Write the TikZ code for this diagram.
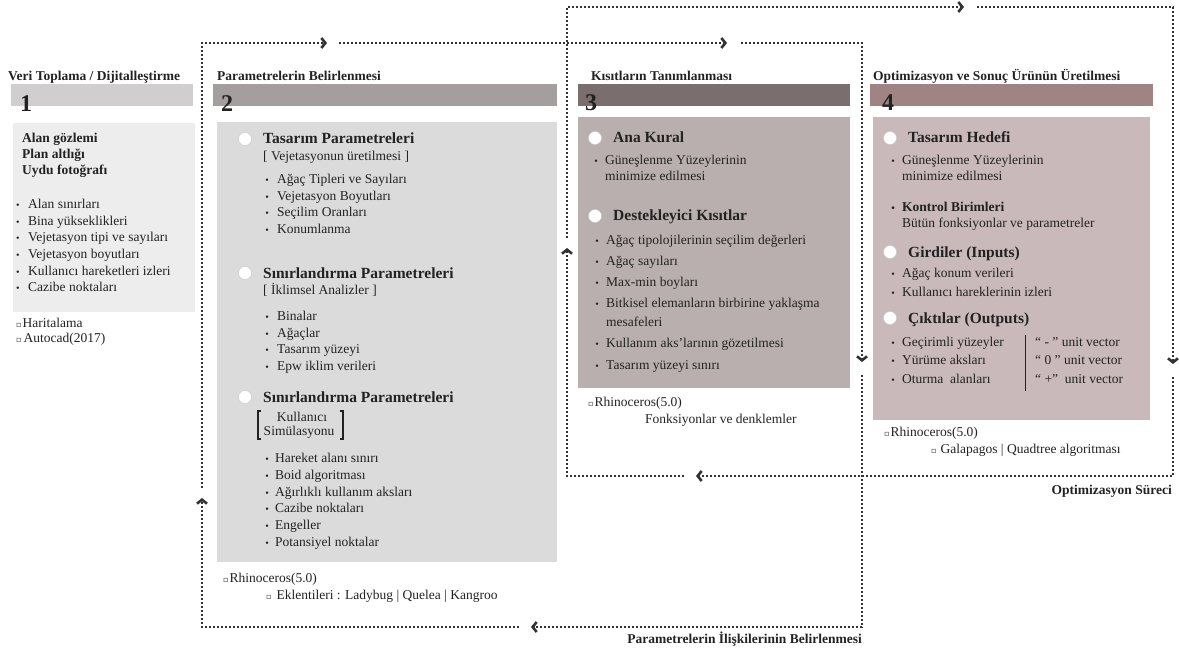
\documentclass[tikz,border=0pt]{standalone}
\usepackage{fontspec}
\setmainfont{Liberation Serif}
\newfontfamily\symfont{DejaVu Sans}
\usetikzlibrary{arrows.meta}
\definecolor{barone}{HTML}{D0CECE}
\definecolor{boxone}{HTML}{EDEDED}
\definecolor{bartwo}{HTML}{A59E9E}
\definecolor{boxtwo}{HTML}{DCDBDB}
\definecolor{barthree}{HTML}{7B6E6E}
\definecolor{boxthree}{HTML}{BAAFAF}
\definecolor{barfour}{HTML}{A08383}
\definecolor{boxfour}{HTML}{C9B9BA}
\definecolor{ink}{HTML}{222222}
\definecolor{loopc}{HTML}{333333}
\newcommand{\boxmark}{{\symfont\fontsize{8}{8}\selectfont ▫}}
\tikzset{
  txt/.style={anchor=west, inner sep=0pt, text height=9pt, text depth=0pt, text=ink, font=\fontsize{13.5}{15}\selectfont},
  strong/.style={txt, font=\fontsize{13.5}{15}\selectfont\bfseries},
  subhead/.style={txt, text height=10pt, font=\fontsize{15.5}{17}\selectfont\bfseries},
  bul/.style={txt, anchor=center, font=\fontsize{10}{10}\selectfont},
  num/.style={anchor=base west, inner sep=0pt, text=ink, font=\fontsize{24}{25}\selectfont\bfseries},
  ring/.style={circle, fill=white, draw=black!20, line width=0.5pt, minimum size=13pt, inner sep=0pt},
  loopline/.style={draw=loopc, line width=1.8pt, dash pattern=on 1.8pt off 2.2pt},
  chev/.style={-{Straight Barb[length=4pt,width=10pt,line width=2.6pt]}},
}
\begin{document}
\begin{tikzpicture}[x=1pt,y=-1pt]
\useasboundingbox (0,0) rectangle (1179,650);
% loops
\coordinate (aNW) at (202,43);
\coordinate (aNE) at (862,43);
\coordinate (aSE) at (862,627);
\coordinate (aSW) at (202,627);
\coordinate (oNW) at (567,7);
\coordinate (oNE) at (1173,7);
\coordinate (oSE) at (1173,476);
\coordinate (oSW) at (567,476);
\draw[loopline, chev] (202,488) -- (aNW) -- (327,43);
\draw[loopline, chev] (339,43) -- (727,43);
\draw[loopline, chev] (741,43) -- (aNE) -- (862,362);
\draw[loopline, chev] (862,375) -- (aSE) -- (531,627);
\draw[loopline, chev] (519,627) -- (aSW) -- (202,498);
\draw[loopline, chev] (567,238) -- (oNW) -- (964,7);
\draw[loopline, chev] (977,7) -- (oNE) -- (1173,364);
\draw[loopline, chev] (1173,377) -- (oSE) -- (696,476);
\draw[loopline, chev] (684,476) -- (oSW) -- (567,248);
\node[strong, anchor=east] (lblA) at (862,639) {Parametrelerin İlişkilerinin Belirlenmesi};
\node[strong, anchor=east] (lblB) at (1172,490) {Optimizasyon Süreci};
% section 1
\node[strong] (t1) at (8,76) {Veri Toplama / Dijitalleştirme};
\fill[barone] (11,84) rectangle (193,106);
\node[num] (n1) at (20,112) {1};
\fill[boxone] (13,123) rectangle (195,312);
\foreach \y/\lbl [count=\i] in {138/Alan gözlemi, 154/Plan altlığı, 170/Uydu fotoğrafı}
  \node[strong] (s1h\i) at (22,\y) {\lbl};
\foreach \y/\lbl [count=\i] in {204/Alan sınırları, 221/Bina yükseklikleri, 237/Vejetasyon tipi ve sayıları, 254/Vejetasyon boyutları, 271/Kullanıcı hareketleri izleri, 287/Cazibe noktaları}{
  \node[bul] (s1b\i) at (18,\y) {•};
  \node[txt] (s1t\i) at (28,\y) {\lbl};
}
\node[txt] (s1m1) at (16,323) {\boxmark\hspace{1pt}Haritalama};
\node[txt] (s1m2) at (16,338) {\boxmark\hspace{2pt}Autocad(2017)};
% section 2
\node[strong] (t2) at (217,76) {Parametrelerin Belirlenmesi};
\fill[bartwo] (213,84) rectangle (557,106);
\node[num] (n2) at (221,112) {2};
\fill[boxtwo] (217,122) rectangle (557,562);
\node[ring] (r21) at (245,139) {};
\node[subhead] (h21) at (263,139) {Tasarım Parametreleri};
\node[txt] (g21) at (263,156) {[ Vejetasyonun üretilmesi ]};
\foreach \y/\lbl [count=\i] in {179/Ağaç Tipleri ve Sayıları, 196/Vejetasyon Boyutları, 212/Seçilim Oranları, 229/Konumlanma}{
  \node[bul] (s2a\i) at (267,\y) {•};
  \node[txt] (s2at\i) at (277,\y) {\lbl};
}
\node[ring] (r22) at (245,273) {};
\node[subhead] (h22) at (263,273) {Sınırlandırma Parametreleri};
\node[txt] (g22) at (263,290) {[ İklimsel Analizler ]};
\foreach \y/\lbl [count=\i] in {316/Binalar, 333/Ağaçlar, 349/Tasarım yüzeyi, 366/Epw iklim verileri}{
  \node[bul] (s2b\i) at (267,\y) {•};
  \node[txt] (s2bt\i) at (277,\y) {\lbl};
}
\node[ring] (r23) at (245,397) {};
\node[subhead] (h23) at (263,397) {Sınırlandırma Parametreleri};
\node[txt, anchor=center] (g23a) at (302,417) {Kullanıcı};
\node[txt, anchor=center] (g23b) at (299,431) {Simülasyonu};
\draw[ink, line width=1.2pt] (261,411) -- (258,411) -- (258,439) -- (261,439);
\draw[ink, line width=1.2pt] (340,411) -- (343,411) -- (343,439) -- (340,439);
\foreach \y/\lbl [count=\i] in {458/Hareket alanı sınırı, 475/Boid algoritması, 492/Ağırlıklı kullanım aksları, 508/Cazibe noktaları, 525/Engeller, 542/Potansiyel noktalar}{
  \node[bul] (s2c\i) at (267,\y) {•};
  \node[txt] (s2ct\i) at (275,\y) {\lbl};
}
\node[txt] (s2m1) at (223,578) {\boxmark\hspace{1pt}Rhinoceros(5.0)};
\node[txt] (s2m2) at (266,595) {\boxmark\hspace{5pt}Eklentileri : Ladybug | Quelea | Kangroo};
% section 3
\node[strong] (t3) at (591,76) {Kısıtların Tanımlanması};
\fill[barthree] (578,84) rectangle (850,106);
\node[num] (n3) at (585,111) {3};
\fill[boxthree] (578,117) rectangle (850,388);
\node[ring] (r31) at (595,138) {};
\node[subhead] (h31) at (613,138) {Ana Kural};
\node[bul] (s3a1) at (596,160) {•};
\node[txt] (s3at1) at (605,160) {Güneşlenme Yüzeylerinin};
\node[txt] (s3at2) at (605,176) {minimize edilmesi};
\node[ring] (r32) at (595,216) {};
\node[subhead] (h32) at (613,216) {Destekleyici Kısıtlar};
\foreach \y/\lbl [count=\i] in {240/Ağaç tipolojilerinin seçilim değerleri, 261/Ağaç sayıları, 282/Max-min boyları, 303/Bitkisel elemanların birbirine yaklaşma, 343/Kullanım aks’larının gözetilmesi, 365/Tasarım yüzeyi sınırı}{
  \node[bul] (s3b\i) at (597,\y) {•};
  \node[txt] (s3bt\i) at (606,\y) {\lbl};
}
\node[txt] (s3bx) at (606,322) {mesafeleri};
\node[txt] (s3m1) at (588,402) {\boxmark\hspace{1pt}Rhinoceros(5.0)};
\node[txt] (s3m2) at (645,419) {Fonksiyonlar ve denklemler};
% section 4
\node[strong] (t4) at (873,76) {Optimizasyon ve Sonuç Ürünün Üretilmesi};
\fill[barfour] (870,84) rectangle (1153,106);
\node[num] (n4) at (882,111) {4};
\fill[boxfour] (873,117) rectangle (1150,420);
\node[ring] (r41) at (890,138) {};
\node[subhead] (h41) at (908,138) {Tasarım Hedefi};
\node[bul] (s4a1) at (893,160) {•};
\node[txt] (s4at1) at (902,160) {Güneşlenme Yüzeylerinin};
\node[txt] (s4at2) at (902,176) {minimize edilmesi};
\node[bul] (s4k1) at (893,207) {\bfseries •};
\node[strong] (s4kt1) at (902,207) {Kontrol Birimleri};
\node[txt] (s4kt2) at (902,223) {Bütün fonksiyonlar ve parametreler};
\node[ring] (r42) at (890,252) {};
\node[subhead] (h42) at (908,252) {Girdiler (Inputs)};
\foreach \y/\lbl [count=\i] in {273/Ağaç konum verileri, 292/Kullanıcı hareklerinin izleri}{
  \node[bul] (s4b\i) at (893,\y) {•};
  \node[txt] (s4bt\i) at (902,\y) {\lbl};
}
\node[ring] (r43) at (890,318) {};
\node[subhead] (h43) at (908,318) {Çıktılar (Outputs)};
\foreach \y/\lbl/\vec [count=\i] in {342/Geçirimli yüzeyler/“ - ” unit vector, 360/Yürüme aksları/“ 0 ” unit vector, 379/Oturma\ \ alanları/“ +”\ \ unit vector}{
  \node[bul] (s4c\i) at (893,\y) {•};
  \node[txt] (s4ct\i) at (902,\y) {\lbl};
  \node[txt] (s4cv\i) at (1035,\y) {\vec};
}
\coordinate (sepT) at (1025,335);
\coordinate (sepB) at (1025,391);
\draw[ink, line width=0.8pt] (sepT) -- (sepB);
\node[txt] (s4m1) at (884,432) {\boxmark\hspace{1pt}Rhinoceros(5.0)};
\node[txt] (s4m2) at (931,449) {\boxmark\hspace{4pt}Galapagos | Quadtree algoritması};
\end{tikzpicture}
\end{document}
